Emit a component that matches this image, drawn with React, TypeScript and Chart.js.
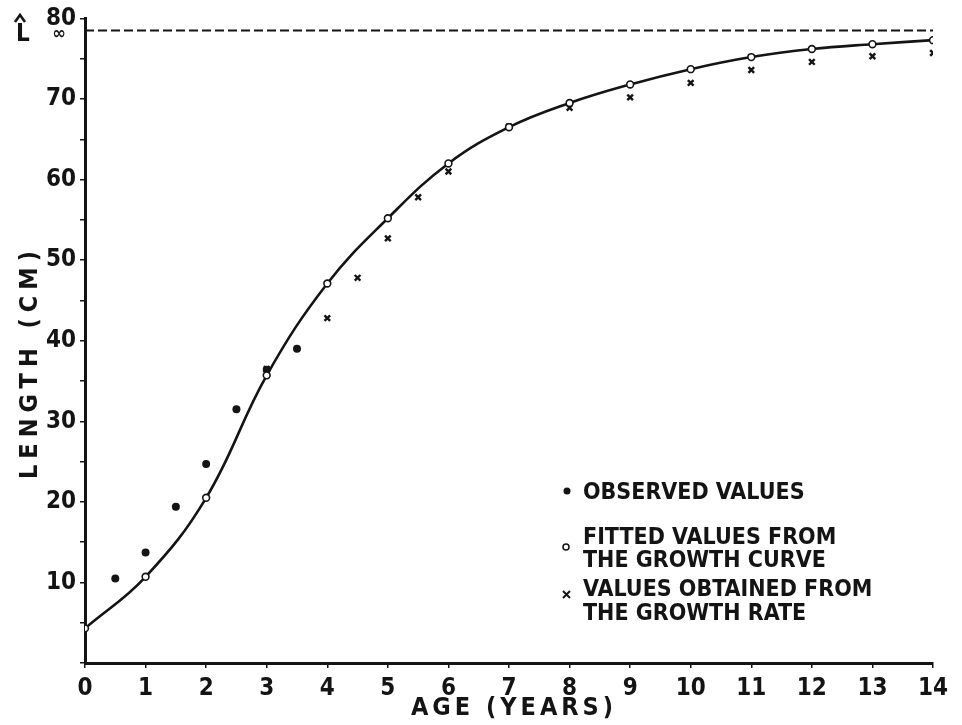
import React, { useEffect, useRef } from "react";
import { Chart, registerables } from "chart.js";

Chart.register(...registerables);

// ---- data ----
const L_INF = 78.5;
const fittedAges = [0, 1, 2, 3, 4, 5, 6, 7, 8, 9, 10, 11, 12, 13, 14];
const fittedLengths = [4.3, 10.7, 20.5, 35.7, 47.1, 55.2, 62.0, 66.5, 69.5, 71.8, 73.7, 75.2, 76.2, 76.8, 77.3];
const observedAges = [0.5, 1, 1.5, 2, 2.5, 3, 3.5];
const observedLengths = [10.5, 13.7, 19.4, 24.7, 31.5, 36.4, 39.0];
const rateAges = [3, 4, 4.5, 5, 5.5, 6, 7, 8, 9, 10, 11, 12, 13, 14];
const rateLengths = [36.5, 42.8, 47.8, 52.7, 57.8, 61.0, 66.6, 68.9, 70.2, 72.0, 73.6, 74.6, 75.3, 75.7];
const xTickLabels = ["0", "1", "2", "3", "4", "5", "6", "7", "8", "9", "10", "11", "12", "13", "14"];
const legendLabels = [
  ["OBSERVED VALUES"],
  ["FITTED VALUES FROM", "THE GROWTH CURVE"],
  ["VALUES OBTAINED FROM", "THE GROWTH RATE"],
];
const xTitle = "AGE (YEARS)";
const yTitle = "LENGTH (CM)";

const FONT = '"DejaVu Sans Condensed", "Liberation Sans Narrow", "DejaVu Sans", sans-serif';
const INK = "#141414";

const pts = (xs: number[], ys: number[]) => xs.map((x, i) => ({ x, y: ys[i] }));

const textPlugin = {
  id: "textPlugin",
  afterDraw(chart: any) {
    const ctx = chart.ctx as CanvasRenderingContext2D;
    ctx.save();
    ctx.fillStyle = INK;
    ctx.strokeStyle = INK;

    // L-hat infinity label
    ctx.font = `bold 24px ${FONT}`;
    ctx.textAlign = "center";
    ctx.textBaseline = "middle";
    ctx.fillText("L", 23, 35);
    ctx.lineWidth = 2.5;
    ctx.beginPath();
    ctx.moveTo(15, 22);
    ctx.lineTo(20, 15);
    ctx.lineTo(25, 22);
    ctx.stroke();
    ctx.font = `bold 18px ${FONT}`;
    ctx.fillText("\u221E", 59, 34);

    // axis titles
    ctx.font = `bold 25px ${FONT}`;
    (ctx as any).letterSpacing = "4px";
    ctx.textAlign = "center";
    ctx.textBaseline = "middle";
    ctx.fillText(xTitle, 514, 708);
    ctx.save();
    ctx.translate(30, 362);
    ctx.rotate(-Math.PI / 2);
    (ctx as any).letterSpacing = "6px";
    ctx.fillText(yTitle, 0, 0);
    ctx.restore();
    (ctx as any).letterSpacing = "0px";

    // legend
    ctx.font = `bold 23px ${FONT}`;
    ctx.textAlign = "left";
    ctx.textBaseline = "middle";
    const lineYs = [[493], [538, 561], [590, 614]];
    legendLabels.forEach((lines, i) => {
      lines.forEach((t, j) => ctx.fillText(t, 583, lineYs[i][j]));
    });
    // markers
    ctx.beginPath();
    ctx.arc(567, 491, 3.5, 0, Math.PI * 2);
    ctx.fill();
    ctx.beginPath();
    ctx.lineWidth = 1.5;
    ctx.fillStyle = "#fff";
    ctx.arc(566, 547, 3, 0, Math.PI * 2);
    ctx.fill();
    ctx.stroke();
    ctx.lineWidth = 2;
    ctx.beginPath();
    ctx.moveTo(563, 591);
    ctx.lineTo(570, 598);
    ctx.moveTo(570, 591);
    ctx.lineTo(563, 598);
    ctx.stroke();
    ctx.restore();
  },
};

export default function App() {
  const ref = useRef<HTMLCanvasElement | null>(null);
  useEffect(() => {
    document.body.style.margin = "0";
    document.body.style.background = "#fff";
    const canvas = ref.current!;
    const chart = new Chart(canvas, {
      type: "scatter",
      data: {
        datasets: [
          {
            type: "line",
            label: "L_inf",
            data: [{ x: 0, y: L_INF }, { x: 14, y: L_INF }],
            borderColor: INK,
            borderWidth: 2,
            borderDash: [9, 4],
            pointRadius: 0,
            order: 5,
          } as any,
          {
            type: "line",
            label: "Growth curve",
            data: pts(fittedAges, fittedLengths),
            borderColor: INK,
            borderWidth: 2.6,
            tension: 0.4,
            pointRadius: 0,
            order: 4,
          } as any,
          {
            label: "Fitted",
            data: pts(fittedAges, fittedLengths),
            pointStyle: "circle",
            pointRadius: 3.4,
            pointBackgroundColor: "#fff",
            pointBorderColor: INK,
            pointBorderWidth: 1.6,
            order: 1,
          },
          {
            label: "Observed",
            data: pts(observedAges, observedLengths),
            pointStyle: "circle",
            pointRadius: 4,
            pointBackgroundColor: INK,
            pointBorderColor: INK,
            pointBorderWidth: 0,
            order: 2,
          },
          {
            label: "Growth rate",
            data: pts(rateAges, rateLengths),
            pointStyle: "crossRot",
            pointRadius: 4,
            pointBorderColor: INK,
            pointBorderWidth: 2.4,
            order: 3,
          },
        ],
      },
      options: {
        animation: false,
        responsive: false,
        events: [],
        layout: { padding: { left: 0, top: 18, right: 29, bottom: 0 } },
        plugins: { legend: { display: false }, tooltip: { enabled: false } },
        scales: {
          x: {
            type: "linear",
            min: 0,
            max: 14,
            afterFit: (s: any) => {
              s.height = 62;
            },
            border: { display: true, color: INK, width: 3 },
            grid: { drawOnChartArea: false, drawTicks: true, tickLength: 5, color: INK, lineWidth: 1.5 },
            ticks: {
              stepSize: 1,
              color: INK,
              padding: 6,
              font: { family: FONT, size: 24, weight: "bold" },
              callback: (v: any) => xTickLabels[Number(v)] ?? "",
              maxRotation: 0,
              autoSkip: false,
            },
          },
          y: {
            type: "linear",
            min: 0,
            max: 80,
            afterFit: (s: any) => {
              s.width = 85;
            },
            border: { display: true, color: INK, width: 3 },
            grid: { drawOnChartArea: false, drawTicks: true, tickLength: 5, color: INK, lineWidth: 1.5 },
            ticks: {
              stepSize: 5,
              color: INK,
              padding: 4,
              font: { family: FONT, size: 24, weight: "bold" },
              callback: (v: any) => (Number(v) % 10 === 0 && Number(v) > 0 ? String(v) : ""),
              autoSkip: false,
            },
          },
        },
      },
      plugins: [textPlugin],
    } as any);
    return () => chart.destroy();
  }, []);
  return (
    <div style={{ width: 962, height: 725, background: "#fff" }}>
      <canvas ref={ref} width={962} height={725} style={{ display: "block" }} />
    </div>
  );
}
